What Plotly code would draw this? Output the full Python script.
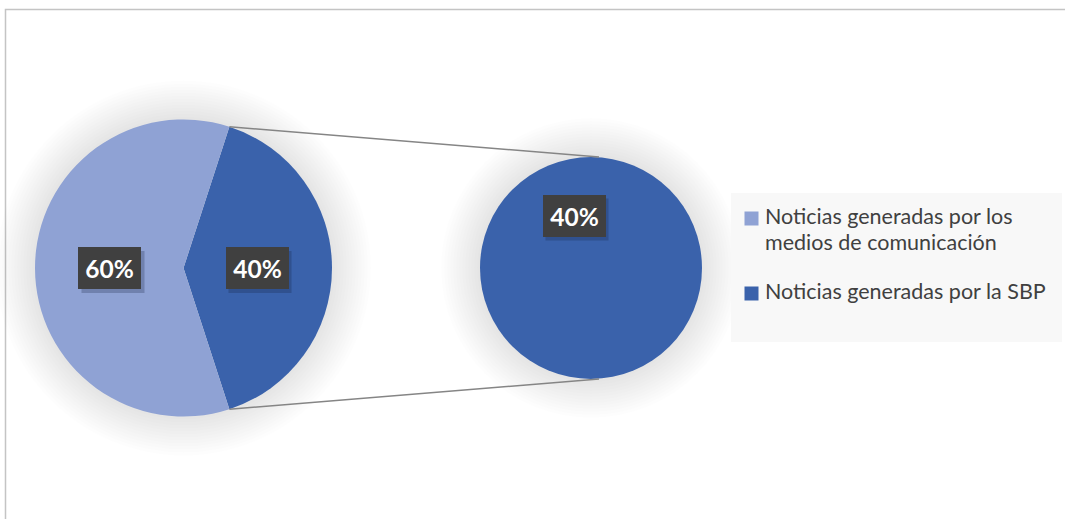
import math
import plotly.graph_objects as go

# ---- data ----
categories = ["Noticias generadas por la SBP", "Noticias generadas por los medios de comunicación"]
values = [40, 60]            # primary pie (percent)
secondary_values = [40]      # the SBP share, expanded in the secondary pie
colors = ["#3A62AB", "#8FA2D4"]
legend_lines = [["Noticias generadas por los", "medios de comunicación"], ["Noticias generadas por la SBP"]]
legend_colors = ["#8FA2D4", "#3A62AB"]

W, H = 1065, 519
FONT = "Lato"

# pixel geometry of the two pies
P1 = dict(cx=183.5, cy=268, r=148.5)
P2 = dict(cx=591, cy=268, r=111)
ROT = 18  # first slice starts 18 deg clockwise from 12 o'clock


def px(x):
    return x / W


def py(y):
    return 1 - y / H


def domain(p):
    return dict(x=[px(p["cx"] - p["r"]), px(p["cx"] + p["r"])],
                y=[py(p["cy"] + p["r"]), py(p["cy"] - p["r"])])


fig = go.Figure()

fig.add_trace(go.Pie(
    values=values, labels=categories, sort=False, direction="clockwise",
    rotation=ROT, marker=dict(colors=colors, line=dict(width=0)),
    textinfo="none", hoverinfo="label+percent", domain=domain(P1), showlegend=False,
))
fig.add_trace(go.Pie(
    values=secondary_values, labels=[categories[0]], sort=False,
    marker=dict(colors=[colors[0]], line=dict(width=0)),
    textinfo="none", hoverinfo="label", domain=domain(P2), showlegend=False,
))

shapes = []

# chart frame
shapes.append(dict(type="rect", xref="paper", yref="paper",
                   x0=px(5.5), x1=px(1070), y0=py(530), y1=py(9.5),
                   line=dict(color="#C4C4C4", width=1.5), fillcolor="rgba(0,0,0,0)", layer="below"))

# soft shadows around the pies
for p in (P1, P2):
    for k in range(1, 14):
        rr = p["r"] + 3.0 * k
        shapes.append(dict(type="circle", xref="paper", yref="paper",
                           x0=px(p["cx"] - rr), x1=px(p["cx"] + rr),
                           y0=py(p["cy"] + rr), y1=py(p["cy"] - rr),
                           line=dict(width=0), fillcolor="rgba(0,0,0,0.006)", layer="below"))

# connector lines between the split slice and the secondary pie
total = sum(values)
a_start = math.radians(ROT)
a_end = math.radians(ROT + 360 * values[0] / total)
for ang, ty in ((a_start, P2["cy"] - P2["r"]), (a_end, P2["cy"] + P2["r"])):
    x0 = P1["cx"] + P1["r"] * math.sin(ang)
    y0 = P1["cy"] - P1["r"] * math.cos(ang)
    shapes.append(dict(type="line", xref="paper", yref="paper",
                       x0=px(x0), y0=py(y0), x1=px(P2["cx"] + 8), y1=py(ty),
                       line=dict(color="#858585", width=1.5)))

# legend panel
shapes.append(dict(type="rect", xref="paper", yref="paper",
                   x0=px(731), x1=px(1062), y0=py(342), y1=py(193),
                   line=dict(width=0), fillcolor="#F8F8F8", layer="below"))

annotations = []


def data_label(x, y, text):
    bw, bh = 63, 42
    shapes.append(dict(type="rect", xref="paper", yref="paper",
                       x0=px(x - bw / 2 + 3), x1=px(x + bw / 2 + 3),
                       y0=py(y + bh / 2 + 4), y1=py(y - bh / 2 + 4),
                       line=dict(width=0), fillcolor="rgba(20,30,60,0.25)"))
    annotations.append(dict(x=px(x), y=py(y), xref="paper", yref="paper",
                            text=f"<b>{text}</b>", showarrow=False,
                            width=bw, height=bh, borderpad=0, borderwidth=0,
                            bgcolor="#404040", xanchor="center", yanchor="middle",
                            font=dict(family=FONT, size=24.5, color="white")))


# labels of the primary pie, placed at the middle of each slice
cum = 0
for v in values:
    mid = math.radians(ROT + 360 * (cum + v / 2) / total)
    cum += v
    lx = P1["cx"] + 0.495 * P1["r"] * math.sin(mid)
    ly = P1["cy"] - 0.495 * P1["r"] * math.cos(mid)
    data_label(lx, ly, f"{round(100 * v / total)}%")

# label of the secondary pie
data_label(P2["cx"] - 17, P2["cy"] - 52.5, f"{secondary_values[0]}%")

# legend entries: square swatch + one annotation per text line
entry_tops = [216, 291]   # y of the first text line of each entry
LINE_H = 26
for top, lines, col in zip(entry_tops, legend_lines, legend_colors):
    sy = top + 2.5
    shapes.append(dict(type="rect", xref="paper", yref="paper",
                       x0=px(744.5), x1=px(758.5), y0=py(sy + 7), y1=py(sy - 7),
                       line=dict(width=0), fillcolor=col))
    for i, line in enumerate(lines):
        annotations.append(dict(x=px(763), y=py(top + i * LINE_H), xref="paper", yref="paper",
                                text=line, showarrow=False, align="left",
                                xanchor="left", yanchor="middle",
                                font=dict(family=FONT, size=21.5, color="#404040")))

fig.update_layout(
    width=W, height=H, margin=dict(l=0, r=0, t=0, b=0),
    paper_bgcolor="white", plot_bgcolor="white",
    shapes=shapes, annotations=annotations, showlegend=False,
)

fig.write_html("out.html")
